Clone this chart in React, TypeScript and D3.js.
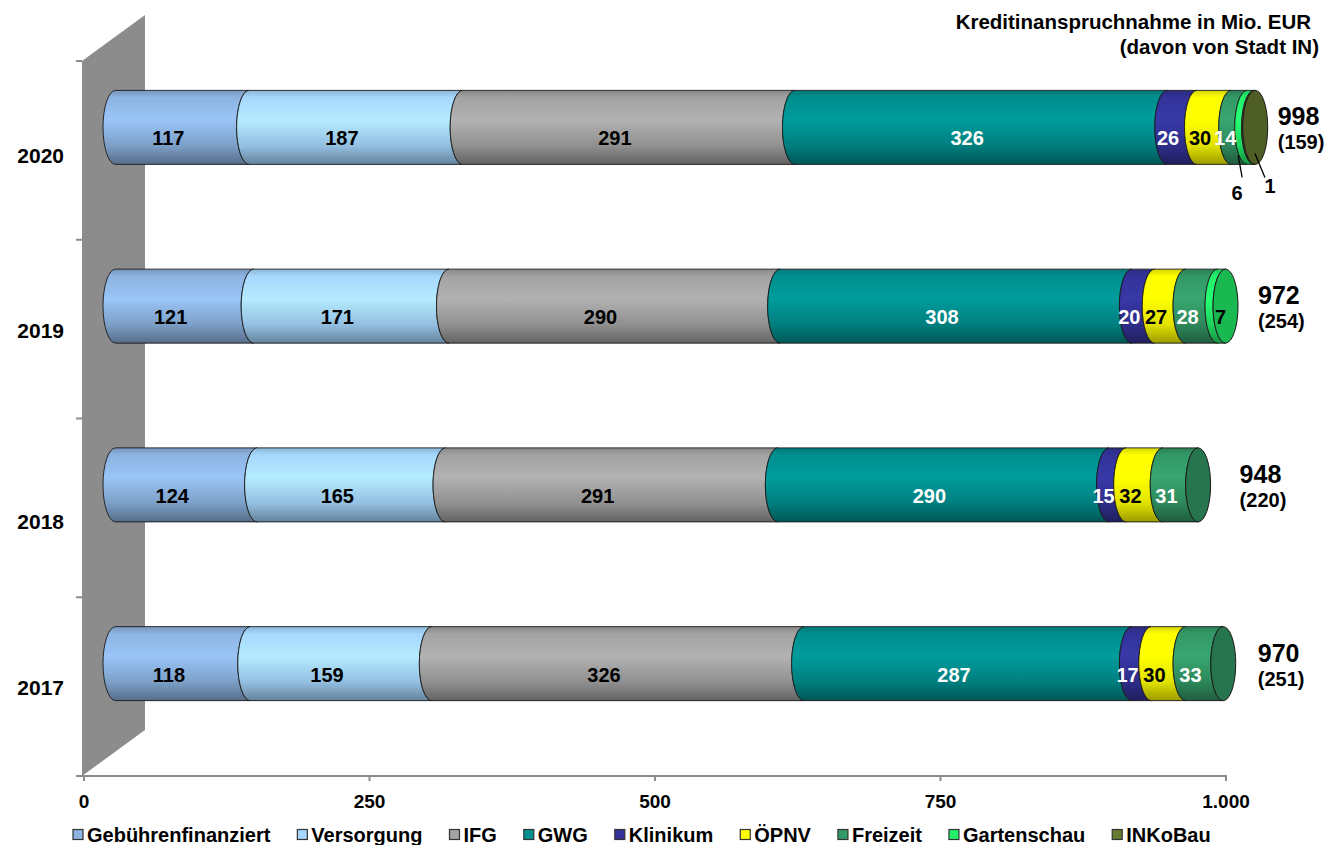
import React from 'react';
import * as d3 from 'd3';

// ---------- data ----------
const years = ['2020', '2019', '2018', '2017'];
const series = ['Gebührenfinanziert', 'Versorgung', 'IFG', 'GWG', 'Klinikum', 'ÖPNV', 'Freizeit', 'Gartenschau', 'INKoBau'];
const v2020 = [117, 187, 291, 326, 26, 30, 14, 6, 1];
const v2019 = [121, 171, 290, 308, 20, 27, 28, 7, 0];
const v2018 = [124, 165, 291, 290, 15, 32, 31, 0, 0];
const v2017 = [118, 159, 326, 287, 17, 30, 33, 0, 0];
const totals = [998, 972, 948, 970];
const cityShare = [159, 254, 220, 251];
const xTicks = [0, 250, 500, 750, 1000];
const titleLines = ['Kreditinanspruchnahme in Mio. EUR', '(davon von Stadt IN)'];

// ---------- styles ----------
const colors = ['#8db4e2', '#a6d8ff', '#a3a3a3', '#008f8f', '#33339a', '#ffff00', '#339966', '#22f06a', '#677b2f'];
const labelColors = ['#000', '#000', '#000', '#fff', '#fff', '#000', '#fff', '#000', '#000'];
const FONT = "'Liberation Sans', Arial, sans-serif";

// ---------- layout ----------
const W = 1343, H = 845;
const DEPTH_X = 63, DEPTH_Y = -46;
const BAR_HALF = 37, RX = 12.5;
const totalDx = [10, 20, 29, 22];
const yearNudge = [5, 1, 14, 1];
const leaderLabels = [
  { year: '2020', s: 7, x1: -12.5, y1: 28, x2: -8.5, y2: 50, tx: -13.5, ty: 73 },
  { year: '2020', s: 8, x1: 0.3, y1: 26, x2: 10.3, y2: 50, tx: 15.3, ty: 66 },
];
const labelShift: Record<string, number> = { '2019-7': 13 };

const rows = [v2020, v2019, v2018, v2017];
const deFormat = d3.formatLocale({ decimal: ',', thousands: '.', grouping: [3], currency: ['', '€'] }).format(',');

function measure(text: string, size: number) {
  const c = document.createElement('canvas').getContext('2d')!;
  c.font = `bold ${size}px 'Liberation Sans', Arial, sans-serif`;
  return c.measureText(text).width;
}

export default function App() {
  const xFront = d3.scaleLinear().domain([0, 1000]).range([84, 1226]);
  const xBar = (v: number) => xFront(v) + DEPTH_X / 2;
  const yBand = d3.scaleBand<string>().domain(years).range([61, 776]);
  const bw = yBand.bandwidth();
  const yc = (y: string) => (yBand(y) as number) + bw / 2 + DEPTH_Y / 2;

  const segPath = (x0: number, x1: number, c: number) => {
    const t = c - BAR_HALF, b = c + BAR_HALF;
    return `M${x0},${t}L${x1},${t}A${RX},${BAR_HALF} 0 0 0 ${x1},${b}L${x0},${b}A${RX},${BAR_HALF} 0 0 1 ${x0},${t}Z`;
  };

  // legend layout
  let lx = 73;
  const legendItems = series.map((s, i) => {
    const item = { s, i, x: lx };
    lx += 14 + measure(s, 20) + 27;
    return item;
  });

  const axisY = yBand.range()[1];
  const bandEdges = years.map((y) => yBand(y) as number).concat([axisY]);

  return (
    <svg width={W} height={H} style={{ position: 'absolute', left: 0, top: 0, background: '#fff' }} fontFamily={FONT} fontWeight="bold">
      <defs>
        {colors.map((c, i) => {
          const col = d3.color(c)!;
          return (
            <linearGradient key={i} id={`g${i}`} x1="0" y1="0" x2="0" y2="1">
              <stop offset="0" stopColor={col.darker(0.5).formatHex()} />
              <stop offset="0.1" stopColor={col.formatHex()} />
              <stop offset="0.4" stopColor={col.brighter(0.25).formatHex()} />
              <stop offset="0.75" stopColor={col.darker(0.35).formatHex()} />
              <stop offset="1" stopColor={col.darker(1.4).formatHex()} />
            </linearGradient>
          );
        })}
      </defs>

      {/* back wall */}
      <polygon
        points={[[82, 61], [82 + DEPTH_X, 61 + DEPTH_Y], [82 + DEPTH_X, axisY + DEPTH_Y], [82, axisY]].map((p) => p.join(',')).join(' ')}
        fill="#8c8c8c"
      />
      {/* category axis ticks */}
      {bandEdges.map((e, i) => (
        <line key={i} x1={76} x2={82} y1={e} y2={e} stroke="#8c8c8c" strokeWidth={2} />
      ))}
      {/* value axis */}
      <line x1={76} x2={xFront(1000) + 1} y1={axisY} y2={axisY} stroke="#8c8c8c" strokeWidth={2} />
      {xTicks.map((t) => (
        <g key={t}>
          <line x1={xFront(t)} x2={xFront(t)} y1={axisY} y2={axisY + 5} stroke="#8c8c8c" strokeWidth={2} />
          <text x={xFront(t)} y={axisY + 32} textAnchor="middle" fontSize={19}>{deFormat(t)}</text>
        </g>
      ))}

      {/* year labels */}
      {years.map((y, i) => (
        <text key={y} x={64} y={(yBand(y) as number) + bw / 2 + yearNudge[i] + 7.5} textAnchor="end" fontSize={21}>{y}</text>
      ))}

      {/* bars */}
      {years.map((y, r) => {
        const vals = rows[r];
        const c = yc(y);
        let cum = 0;
        let lastIdx = 0;
        const segs = vals.map((v, i) => {
          const a = cum; cum += v;
          if (v > 0) lastIdx = i;
          return { v, i, a, b: cum };
        }).filter((s) => s.v > 0);
        const end = xBar(cum);
        const capCol = d3.color(colors[lastIdx])!.darker(0.75).formatHex();
        return (
          <g key={y}>
            {segs.map((s) => (
              <path key={s.i} d={segPath(xBar(s.a), xBar(s.b), c)} fill={`url(#g${s.i})`} stroke="#1a1a1a" strokeWidth={0.9} />
            ))}
            <ellipse cx={end} cy={c} rx={RX} ry={BAR_HALF} fill={capCol} stroke="#1a1a1a" strokeWidth={1} />
            {segs.map((s) => {
              if (leaderLabels.some((l) => l.year === y && l.s === s.i)) return null;
              const mid = (xBar(s.a) + xBar(s.b)) / 2 - 14 + (labelShift[`${y}-${s.i}`] || 0);
              return (
                <text key={'t' + s.i} x={mid} y={c + 18} textAnchor="middle" fontSize={20} fill={labelColors[s.i]}>{s.v}</text>
              );
            })}
            {leaderLabels.filter((l) => l.year === y).map((l) => {
              const s = segs.find((q) => q.i === l.s)!;
              const mid = (xBar(s.a) + xBar(s.b)) / 2;
              return (
                <g key={'l' + l.s}>
                  <line x1={mid + l.x1} y1={c + l.y1} x2={mid + l.x2} y2={c + l.y2} stroke="#000" strokeWidth={1.3} />
                  <text x={mid + l.tx} y={c + l.ty} textAnchor="middle" fontSize={20}>{s.v}</text>
                </g>
              );
            })}
            <text x={end + RX + totalDx[r]} y={c - 2} fontSize={25}>{totals[r]}</text>
            <text x={end + RX + totalDx[r]} y={c + 22} fontSize={20}>({cityShare[r]})</text>
          </g>
        );
      })}

      {/* title */}
      <text x={1311} y={29} textAnchor="end" fontSize={20.5}>{titleLines[0]}</text>
      <text x={1319} y={54} textAnchor="end" fontSize={20.5}>{titleLines[1]}</text>

      {/* legend */}
      {legendItems.map((it) => (
        <g key={it.s}>
          <rect x={it.x} y={829.5} width={10} height={10} fill={colors[it.i]} stroke="#333" strokeWidth={1.2} />
          <text x={it.x + 14} y={842} fontSize={20}>{it.s}</text>
        </g>
      ))}
    </svg>
  );
}
